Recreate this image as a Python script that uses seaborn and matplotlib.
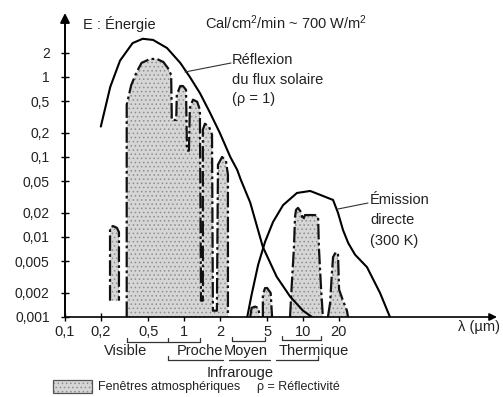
import matplotlib
matplotlib.use("Agg")
import matplotlib.pyplot as plt
import seaborn as sns
from matplotlib.ticker import NullLocator
from matplotlib.patches import Rectangle

# --- data (wavelength in µm, energy in Cal/cm2/min) ---
lam_sun = [0.2, 0.24, 0.29, 0.37, 0.45, 0.55, 0.72, 0.93, 1.12, 1.36, 1.65,
           2.0, 2.45, 2.8, 3.0, 3.6, 4.6, 6.0, 7.8, 10.0, 11.9]
e_sun = [0.24, 0.75, 1.6, 2.65, 3.0, 2.9, 2.3, 1.5, 1.0, 0.63, 0.36,
         0.2, 0.1, 0.069, 0.052, 0.027, 0.0075, 0.0032, 0.0018, 0.0012, 0.001]

lam_em = [3.4, 3.7, 4.2, 4.8, 5.6, 6.8, 8.9, 11.5, 14.7, 17.9, 19.7, 21.7,
          24.0, 27.4, 34.5, 44.4, 53.8]
e_em = [0.001, 0.0019, 0.0045, 0.0087, 0.0154, 0.025, 0.0355, 0.0376, 0.0326,
        0.029, 0.020, 0.0122, 0.0084, 0.0060, 0.0042, 0.0020, 0.001]

# atmospheric windows (outline of each shaded zone)
win_uv_lam = [0.239, 0.239, 0.253, 0.273, 0.284, 0.284]
win_uv_e = [0.0016, 0.013, 0.0137, 0.013, 0.0115, 0.0016]

win_vis_lam = [0.33, 0.33, 0.36, 0.40, 0.44, 0.52, 0.59, 0.67, 0.73, 0.78, 0.79,
               0.86, 0.87, 0.93, 0.98, 1.04, 1.06, 1.10, 1.12, 1.19, 1.29, 1.36,
               1.39, 1.44, 1.44, 1.50, 1.62, 1.72, 1.75, 1.89, 1.93, 2.09, 2.25,
               2.34, 2.34]
win_vis_e = [0.001, 0.45, 0.79, 1.15, 1.5, 1.68, 1.68, 1.54, 1.3, 1.06, 0.29,
             0.29, 0.6, 0.77, 0.77, 0.69, 0.12, 0.12, 0.41, 0.52, 0.49, 0.39,
             0.0016, 0.0016, 0.22, 0.26, 0.24, 0.19, 0.0012, 0.0012, 0.08, 0.1,
             0.09, 0.06, 0.001]

win_tiny_lam = [3.6, 3.7, 3.95, 4.2, 4.35]
win_tiny_e = [0.001, 0.0013, 0.00135, 0.0013, 0.001]

win_mir_lam = [4.6, 4.6, 4.8, 5.0, 5.35, 5.5]
win_mir_e = [0.001, 0.0019, 0.0023, 0.0023, 0.002, 0.001]

win_th_lam = [7.78, 8.09, 8.40, 8.57, 8.74, 9.08, 9.62, 10.0, 10.4, 11.5, 12.6,
              13.4, 13.6, 14.2, 14.7]
win_th_e = [0.001, 0.0029, 0.0075, 0.0178, 0.0218, 0.0231, 0.0205, 0.0163,
            0.0188, 0.0188, 0.0188, 0.0178, 0.0075, 0.0022, 0.001]

win_fir_lam = [16.2, 16.9, 17.5, 17.9, 18.9, 19.7, 20.1, 21.7, 23.4, 23.9]
win_fir_e = [0.001, 0.0015, 0.00355, 0.0056, 0.0065, 0.006, 0.0022, 0.0016,
             0.0012, 0.001]

xticks = [0.1, 0.2, 0.5, 1, 2, 5, 10, 20]
xtick_labels = ["0,1", "0,2", "0,5", "1", "2", "5", "10", "20"]
yticks = [0.001, 0.002, 0.005, 0.01, 0.02, 0.05, 0.1, 0.2, 0.5, 1, 2]
ytick_labels = ["0,001", "0,002", "0,005", "0,01", "0,02", "0,05", "0,1",
                "0,2", "0,5", "1", "2"]

windows = [(win_uv_lam, win_uv_e), (win_vis_lam, win_vis_e),
           (win_tiny_lam, win_tiny_e), (win_mir_lam, win_mir_e),
           (win_th_lam, win_th_e), (win_fir_lam, win_fir_e)]

# --- style ---
sns.set_theme(style="white")
plt.rcParams['font.family'] = ['Liberation Sans', 'DejaVu Sans']
plt.rcParams['mathtext.fontset'] = 'custom'
plt.rcParams['mathtext.rm'] = 'Liberation Sans'
plt.rcParams['mathtext.default'] = 'regular'
plt.rcParams['hatch.linewidth'] = 0.6

TXT = '#222222'
FILL = '#d6d6d6'
HATCH = '#8e8e8e'
DASHDOT = (0, (7, 1.5, 1.2, 1.5))

fig = plt.figure(figsize=(5.03, 3.97), dpi=100)
ax = fig.add_axes([65 / 503, 80 / 397, 432 / 503, 304 / 397])
ax.set_xscale('log')
ax.set_yscale('log')

# shaded atmospheric windows
for lam, top in windows:
    ax.fill(lam, top, facecolor=FILL, edgecolor=HATCH, hatch='....', lw=0, zorder=1)
    ax.plot(lam, top, color='#111111', lw=1.6, ls=DASHDOT, zorder=2)

# solar reflection and thermal emission curves
sns.lineplot(x=lam_sun, y=e_sun, sort=False, estimator=None, color='black',
             lw=1.5, ax=ax, zorder=3)
sns.lineplot(x=lam_em, y=e_em, sort=False, estimator=None, color='black',
             lw=1.5, ax=ax, zorder=3)

ax.set_xlim(0.1, 427)
ax.set_ylim(0.001, 6.3)
ax.set_xticks(xticks)
ax.set_xticklabels(xtick_labels)
ax.set_yticks(yticks)
ax.set_yticklabels(ytick_labels)
ax.xaxis.set_minor_locator(NullLocator())
ax.yaxis.set_minor_locator(NullLocator())
ax.tick_params(axis='both', which='major', direction='inout', length=6, width=1,
               color='black', labelcolor=TXT, bottom=True, left=True)
ax.tick_params(axis='x', labelsize=10.5, pad=3)
ax.tick_params(axis='y', labelsize=10, pad=8)
ax.patch.set_alpha(0)
for s in ax.spines.values():
    s.set_visible(False)

# axes drawn as arrows
arrow = dict(arrowstyle='-|>', color='black', lw=1.4, mutation_scale=14,
             shrinkA=0, shrinkB=0)
ax.annotate('', xy=(0, 1), xytext=(0, 0), xycoords='axes fraction', arrowprops=arrow)
ax.annotate('', xy=(1, 0), xytext=(0, 0), xycoords='axes fraction',
            arrowprops=dict(arrow, mutation_scale=11, lw=1.2))

# --- annotation layer in pixel coordinates ---
ov = fig.add_axes([0, 0, 1, 1])
ov.set_xlim(0, 503)
ov.set_ylim(397, 0)
ov.axis('off')
ov.patch.set_alpha(0)

ov.text(83, 29, "E : Énergie", fontsize=10.5, color=TXT, va='baseline')
ov.text(205, 29, "Cal/cm$^2$/min ~ 700 W/m$^2$", fontsize=10.5, color=TXT,
        va='baseline')

for i, line in enumerate(["Réflexion", "du flux solaire", "(ρ = 1)"]):
    ov.text(232, 60 + 19.5 * i, line, fontsize=10.5, color=TXT, va='center')
ov.plot([185, 231], [72, 63], color='#333333', lw=0.8)

for i, line in enumerate(["Émission", "directe", "(300 K)"]):
    ov.text(370, 200 + 20.5 * i, line, fontsize=10.5, color=TXT, va='center')
ov.plot([338, 368], [209, 203], color='#333333', lw=0.8)

ov.text(500, 327, "λ (µm)", fontsize=10.5, color=TXT, ha='right', va='center')

# spectral domain brackets
kw = dict(color='#333333', lw=0.9)
ov.plot([127, 200], [342, 342], **kw)
for x in [127, 168, 200]:
    ov.plot([x, x], [342, 338], **kw)
ov.plot([232, 265], [341, 341], **kw)
for x in [232, 265]:
    ov.plot([x, x], [341, 337], **kw)
ov.plot([282, 321], [340, 340], **kw)
for x in [282, 321]:
    ov.plot([x, x], [340, 336], **kw)
for x0, x1 in [(168, 223), (229, 270), (276, 318)]:
    ov.plot([x0, x1], [360, 360], **kw)
for x in [168, 318]:
    ov.plot([x, x], [360, 356], **kw)

for label, x in [("Visible", 126), ("Proche", 200), ("Moyen", 246),
                 ("Thermique", 314)]:
    ov.text(x, 351, label, fontsize=10.5, color=TXT, ha='center', va='center')
ov.text(240, 373, "Infrarouge", fontsize=10.5, color=TXT, ha='center', va='center')

# legend
ov.add_patch(Rectangle((53, 380), 39, 13, facecolor=FILL, edgecolor=HATCH,
                       hatch='....', lw=0))
ov.add_patch(Rectangle((53, 380), 39, 13, facecolor='none', edgecolor='#555555',
                       lw=0.9))
ov.text(98, 387, "Fenêtres atmosphériques", fontsize=9, color=TXT, va='center')
ov.text(257, 387, "ρ = Réflectivité", fontsize=9, color=TXT, va='center')

fig.savefig("out.png", dpi=100)
